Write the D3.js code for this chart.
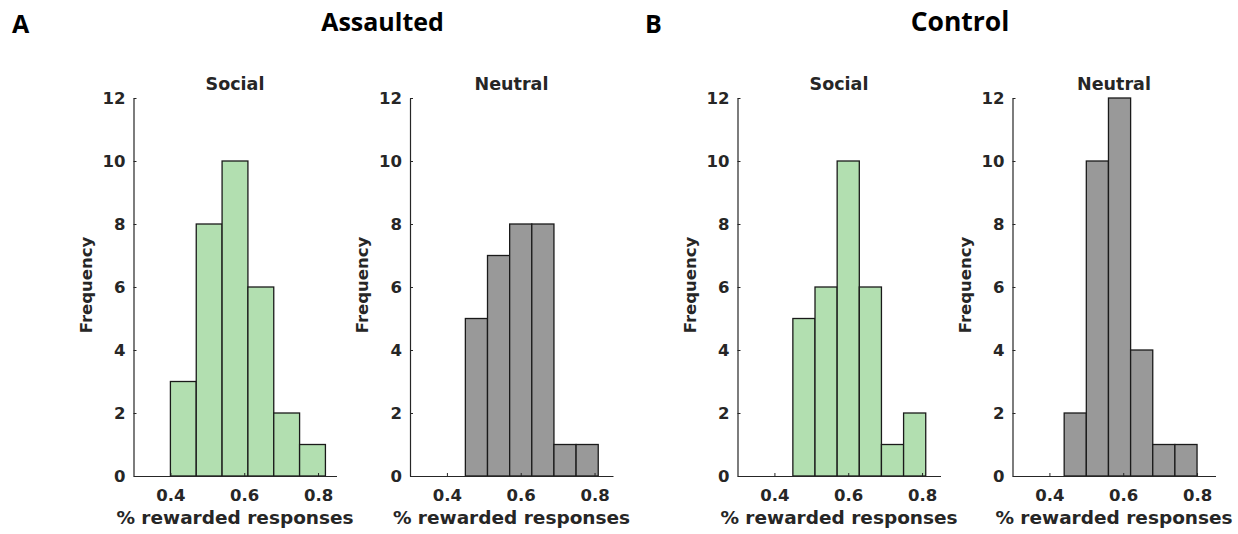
<!DOCTYPE html>
<html>
<head>
<meta charset="utf-8">
<script src="https://cdn.jsdelivr.net/npm/d3@7"></script>
<style>
  body { margin: 0; background: #fff; }
  svg text { fill: #262626; }
</style>
</head>
<body>
<svg id="chart" width="1238" height="534"></svg>
<script>
// figure labels
const panelLetters = ["A", "B"];
const groupTitles = ["Assaulted", "Control"];
const conditionTitles = ["Social", "Neutral", "Social", "Neutral"];

// axis ticks
const xTicks = [0.4, 0.6, 0.8];
const yTicks = [0, 2, 4, 6, 8, 10, 12];

// histogram bin edges and counts
const assaultedSocialEdges = [0.40, 0.47, 0.54, 0.61, 0.68, 0.75, 0.82];
const assaultedSocialCounts = [3, 8, 10, 6, 2, 1];
const assaultedNeutralEdges = [0.45, 0.51, 0.57, 0.63, 0.69, 0.75, 0.81];
const assaultedNeutralCounts = [5, 7, 8, 8, 1, 1];
const controlSocialEdges = [0.45, 0.51, 0.57, 0.63, 0.69, 0.75, 0.81];
const controlSocialCounts = [5, 6, 10, 6, 1, 2];
const controlNeutralEdges = [0.44, 0.50, 0.56, 0.62, 0.68, 0.74, 0.80];
const controlNeutralCounts = [2, 10, 12, 4, 1, 1];

const green = "#b2dfb0";
const gray = "#999999";

const panels = [
  {edges: assaultedSocialEdges, counts: assaultedSocialCounts, fill: green, left: 133.5},
  {edges: assaultedNeutralEdges, counts: assaultedNeutralCounts, fill: gray, left: 410},
  {edges: controlSocialEdges, counts: controlSocialCounts, fill: green, left: 737.5},
  {edges: controlNeutralEdges, counts: controlNeutralCounts, fill: gray, left: 1012.5}
];

const svg = d3.select("#chart");
const font = "'DejaVu Sans', sans-serif";
const plotW = 203, plotTop = 98, plotBottom = 476;

const y = d3.scaleLinear().domain([0, 12]).range([plotBottom, plotTop]);

panels.forEach((p, k) => {
  const x = d3.scaleLinear().domain([0.3, 0.85]).range([p.left, p.left + plotW]);
  const g = svg.append("g");

  const bins = p.counts.map((c, i) => ({x0: p.edges[i], x1: p.edges[i + 1], n: c}));
  g.selectAll("rect")
    .data(bins)
    .enter()
    .append("rect")
    .attr("x", d => x(d.x0))
    .attr("y", d => y(d.n))
    .attr("width", d => x(d.x1) - x(d.x0))
    .attr("height", d => y(0) - y(d.n))
    .attr("fill", p.fill)
    .attr("stroke", "#1a1a1a")
    .attr("stroke-width", 1.3);

  const xAxis = g.append("g")
    .attr("transform", `translate(0,${plotBottom})`)
    .call(d3.axisBottom(x).tickValues(xTicks).tickFormat(d3.format(".1f"))
      .tickSizeInner(-3).tickSizeOuter(0).tickPadding(13));
  const yAxis = g.append("g")
    .attr("transform", `translate(${p.left},0)`)
    .call(d3.axisLeft(y).tickValues(yTicks).tickSizeInner(-3).tickSizeOuter(0).tickPadding(8));

  [xAxis, yAxis].forEach(a => {
    a.select(".domain").attr("stroke", "#262626").attr("stroke-width", 1.2);
    a.selectAll(".tick line").attr("stroke", "#262626");
    a.selectAll("text")
      .attr("font-family", font)
      .attr("font-weight", "bold")
      .attr("font-size", 16.5)
      .attr("fill", "#262626");
  });

  g.append("text")
    .attr("x", p.left + plotW / 2)
    .attr("y", 90)
    .attr("text-anchor", "middle")
    .attr("font-family", font)
    .attr("font-weight", "bold")
    .attr("font-size", 17.5)
    .text(conditionTitles[k]);

  g.append("text")
    .attr("transform", `translate(${p.left - 42},${(plotTop + plotBottom) / 2 - 2}) rotate(-90)`)
    .attr("text-anchor", "middle")
    .attr("font-family", font)
    .attr("font-weight", "bold")
    .attr("font-size", 16.5)
    .text("Frequency");

  g.append("text")
    .attr("x", p.left + plotW / 2)
    .attr("y", 524)
    .attr("text-anchor", "middle")
    .attr("font-family", font)
    .attr("font-weight", "bold")
    .attr("font-size", 18.5)
    .text("% rewarded responses");
});

// panel letters and group titles
const headerFont = "'Open Sans', sans-serif";
[12, 645].forEach((xPos, i) => {
  svg.append("text")
    .attr("x", xPos)
    .attr("y", 33)
    .attr("font-family", headerFont)
    .attr("font-weight", "bold")
    .attr("font-size", 25)
    .style("fill", "#000")
    .text(panelLetters[i]);
});
[382.5, 960].forEach((xPos, i) => {
  svg.append("text")
    .attr("x", xPos)
    .attr("y", 31)
    .attr("text-anchor", "middle")
    .attr("font-family", headerFont)
    .attr("font-weight", "bold")
    .attr("font-size", i === 0 ? 25 : 26.5)
    .style("fill", "#000")
    .text(groupTitles[i]);
});
</script>
</body>
</html>
